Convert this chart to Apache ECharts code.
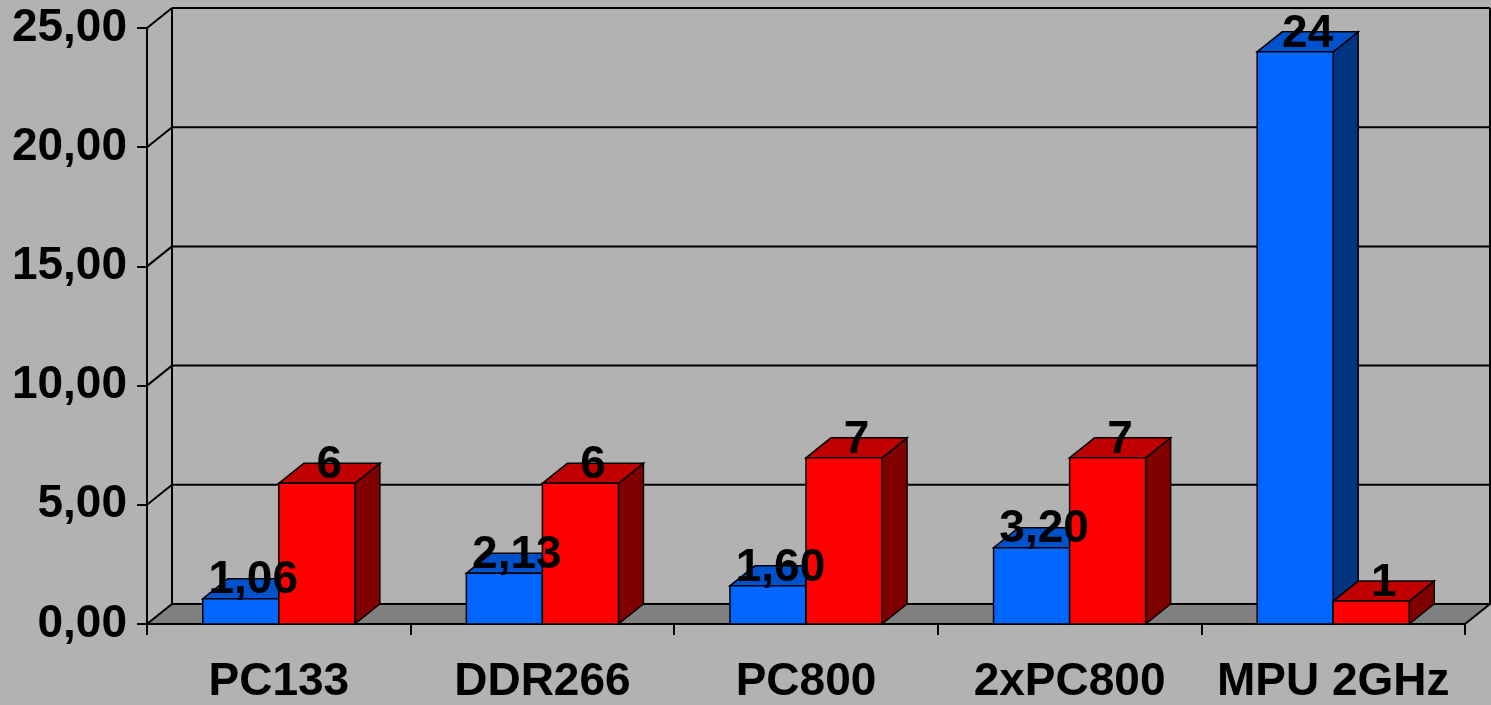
<!DOCTYPE html>
<html>
<head>
<meta charset="utf-8">
<script src="https://cdn.jsdelivr.net/npm/echarts@6/dist/echarts.min.js"></script>
<style>
  html, body { margin: 0; padding: 0; background: #b2b2b2; }
  #chart { width: 1491px; height: 705px; }
</style>
</head>
<body>
<div id="chart"></div>
<script>
const categories = ['PC133', 'DDR266', 'PC800', '2xPC800', 'MPU 2GHz'];
const blueValues = [1.06, 2.13, 1.60, 3.20, 24];
const redValues = [5.9, 5.9, 6.97, 6.97, 0.96];
// decimals shown in each data label
const blueDigits = [2, 2, 2, 2, 0];
const redDigits = [0, 0, 0, 0, 0];
const yTicks = [0, 5, 10, 15, 20, 25];

// oblique depth offset of the 3D look
const DX = 25;
const DY = -20;
const FONT = 'Arial, "Liberation Sans", sans-serif';

const chart = echarts.init(document.getElementById('chart'));

const comma = (v, d) => v.toFixed(d).replace('.', ',');

// back wall, side wall diagonals and floor
function renderWalls(params, api) {
  const cs = params.coordSys;
  const v = api.value(1);
  const y = api.coord([0, v])[1];
  const left = cs.x, right = cs.x + cs.width;
  const children = [];
  if (params.dataIndex === 0) {
    const yTop = api.coord([0, yTicks[yTicks.length - 1]])[1];
    children.push({
      type: 'polygon',
      shape: { points: [[left, y], [right, y], [right + DX, y + DY], [left + DX, y + DY]] },
      style: { fill: '#808080', stroke: '#000', lineWidth: 2 }
    });
    children.push({
      type: 'line',
      shape: { x1: left + DX, y1: y + DY, x2: left + DX, y2: yTop + DY },
      style: { stroke: '#000', lineWidth: 2 }
    });
    children.push({
      type: 'line',
      shape: { x1: right + DX, y1: y + DY, x2: right + DX, y2: yTop + DY },
      style: { stroke: '#000', lineWidth: 2 }
    });
  } else {
    children.push({
      type: 'line',
      shape: { x1: left + DX, y1: y + DY, x2: right + DX, y2: y + DY },
      style: { stroke: '#000', lineWidth: 2 }
    });
    children.push({
      type: 'line',
      shape: { x1: left, y1: y, x2: left + DX, y2: y + DY },
      style: { stroke: '#000', lineWidth: 2 }
    });
  }
  return { type: 'group', children: children };
}

function barRenderer(side, colors, digits) {
  return function (params, api) {
    const idx = api.value(0);
    const v = api.value(1);
    const base = api.coord([idx, 0]);
    const top = api.coord([idx, v]);
    const w = api.size([1, 0])[0] * 0.2885;
    const x0 = side < 0 ? base[0] - w : base[0];
    const x1 = x0 + w;
    const yb = base[1], yt = top[1];
    const line = { stroke: '#000', lineWidth: 1.5 };
    return {
      type: 'group',
      children: [
        {
          type: 'polygon',
          shape: { points: [[x1, yt], [x1 + DX, yt + DY], [x1 + DX, yb + DY], [x1, yb]] },
          style: Object.assign({ fill: colors[2] }, line)
        },
        {
          type: 'polygon',
          shape: { points: [[x0, yt], [x1, yt], [x1 + DX, yt + DY], [x0 + DX, yt + DY]] },
          style: Object.assign({ fill: colors[1] }, line)
        },
        {
          type: 'rect',
          shape: { x: x0, y: yt, width: w, height: yb - yt },
          style: Object.assign({ fill: colors[0] }, line)
        },
        {
          type: 'text',
          z2: 100,
          x: (x0 + x1) / 2 + DX / 2,
          y: yt - 18,
          style: {
            text: comma(v, digits[params.dataIndex]),
            fill: '#000',
            font: 'bold 46px ' + FONT,
            align: 'center',
            verticalAlign: 'middle'
          }
        }
      ]
    };
  };
}

const option = {
  backgroundColor: '#b2b2b2',
  animation: false,
  grid: { left: 147, right: 26, top: 28, bottom: 76, containLabel: false },
  xAxis: {
    type: 'category',
    data: categories,
    axisLine: { show: true, lineStyle: { color: '#000', width: 2 } },
    axisTick: { show: true, length: 11, interval: 0, lineStyle: { color: '#000', width: 2 } },
    axisLabel: {
      interval: 0,
      margin: 35,
      color: '#000',
      fontSize: 46,
      fontWeight: 'bold',
      fontFamily: FONT
    },
    splitLine: { show: false }
  },
  yAxis: {
    type: 'value',
    min: 0,
    max: 25,
    interval: 5,
    axisLine: { show: true, lineStyle: { color: '#000', width: 2 } },
    axisTick: { show: true, length: 10, lineStyle: { color: '#000', width: 2 } },
    axisLabel: {
      margin: 20,
      color: '#000',
      fontSize: 46,
      fontWeight: 'bold',
      fontFamily: FONT,
      formatter: v => comma(v, 2)
    },
    splitLine: { show: false }
  },
  series: [
    {
      type: 'custom',
      z: 1,
      silent: true,
      renderItem: renderWalls,
      data: yTicks.map(v => [0, v])
    },
    {
      name: 'blue',
      type: 'custom',
      z: 2,
      renderItem: barRenderer(-1, ['#0066ff', '#0052cc', '#003380'], blueDigits),
      data: blueValues.map((v, i) => [i, v])
    },
    {
      name: 'red',
      type: 'custom',
      z: 2,
      renderItem: barRenderer(1, ['#ff0000', '#c00000', '#800000'], redDigits),
      data: redValues.map((v, i) => [i, v])
    }
  ]
};

chart.setOption(option);
</script>
</body>
</html>
